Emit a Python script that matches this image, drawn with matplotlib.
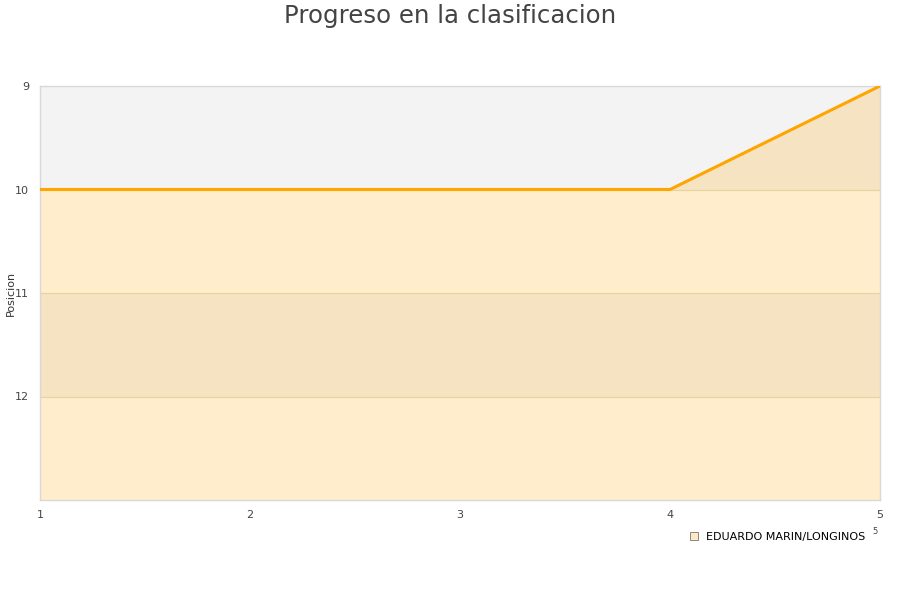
import matplotlib
matplotlib.use("Agg")
import matplotlib.pyplot as plt
from matplotlib.lines import Line2D

title = "Progreso en la clasificacion"
ylabel = "Posicion"
series_name = "EDUARDO MARIN/LONGINOS"
jornadas = [1, 2, 3, 4, 5]
posiciones = [10, 10, 10, 10, 9]
y_ticks = [9, 10, 11, 12]
y_min, y_max = 9, 13

fig = plt.figure(figsize=(9, 6), dpi=100)
ax = fig.add_axes([40/900, 1-500/600, 840/900, 414/600])

# alternating bands
for lo in range(y_min, y_max):
    col = "#f3f3f3" if (lo - y_min) % 2 == 0 else "white"
    ax.axhspan(lo, lo + 1, color=col, zorder=0, lw=0)
for t in y_ticks[1:]:
    ax.axhline(t, color="#e6dcc8", lw=0.8, zorder=1)

ax.fill_between(jornadas, posiciones, y_max, color="#ffa500", alpha=0.2, lw=0, zorder=2)
ax.plot(jornadas, posiciones, color="#ffa500", lw=2.2, zorder=3)

ax.set_xlim(1, 5)
ax.set_ylim(y_max, y_min)
ax.set_yticks(y_ticks)
ax.set_xticks(jornadas)
ax.tick_params(axis="both", length=0, labelsize=8, colors="#444444", pad=8)
ax.tick_params(axis="x", pad=7)
for s in ax.spines.values():
    s.set_color("#d8d8d8")
    s.set_linewidth(1)
fig.text(11/900, 1-293/600, ylabel, rotation=90, fontsize=8, color="#333333",
         ha="center", va="center")

fig.text(0.5, 1-16/600, title, ha="center", va="center", fontsize=17.6, color="#444444")

handle = Line2D([], [], marker="s", ls="none", markersize=6,
                markerfacecolor="#fde9c4", markeredgecolor="#777777", markeredgewidth=0.6)
fig.legend([handle], [series_name], loc="center right", bbox_to_anchor=(871/900, 1-537/600),
           frameon=False, fontsize=8, handletextpad=0.3, handlelength=1.6, borderpad=0)
fig.text(875/900, 1-532/600, "5", fontsize=6, color="#444444", ha="center", va="center")

fig.savefig("out.png", dpi=100)
